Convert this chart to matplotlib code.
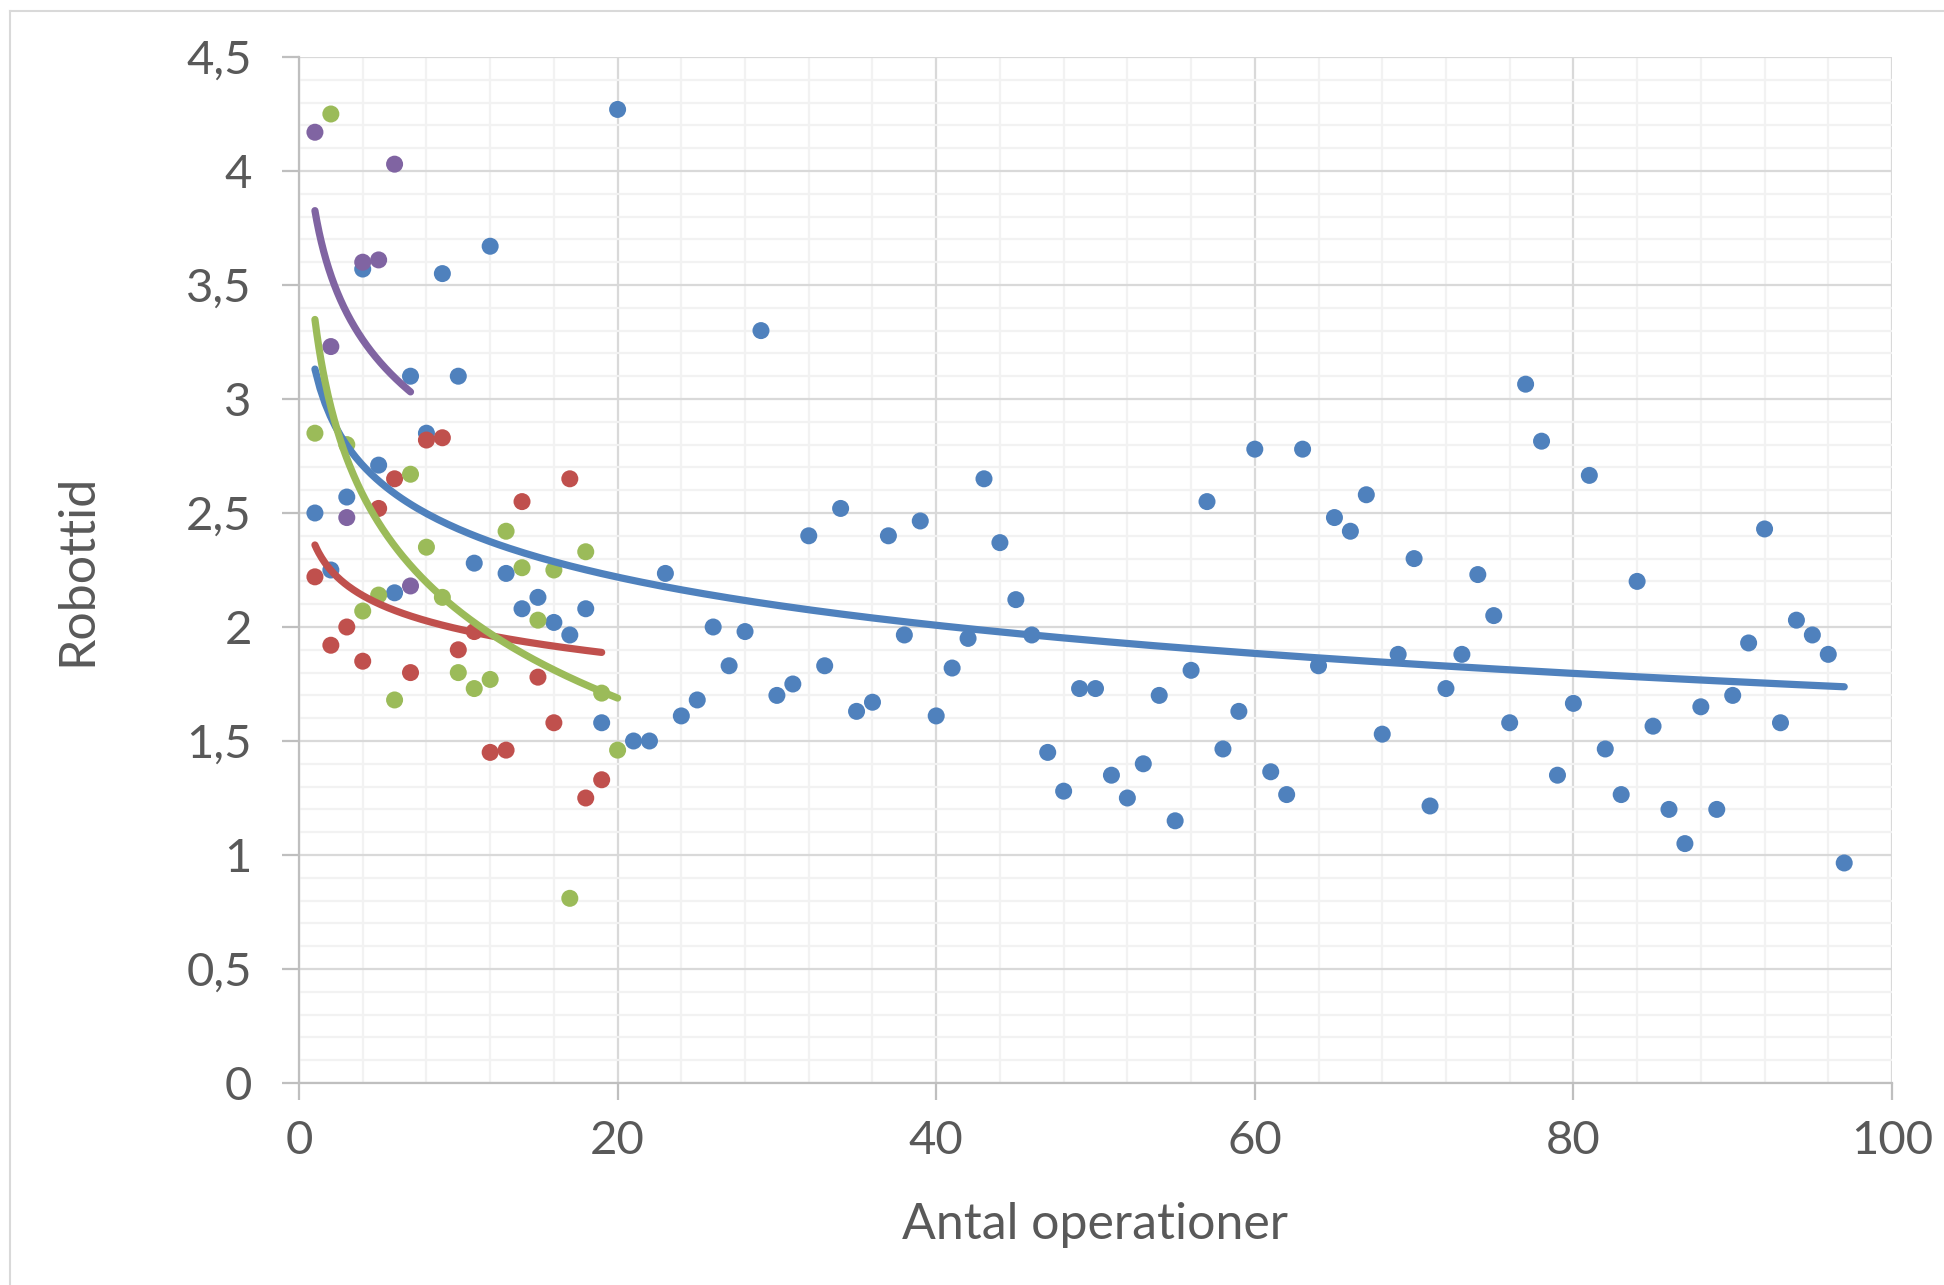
import numpy as np
import matplotlib
matplotlib.use('Agg')
import matplotlib.pyplot as plt
from matplotlib.ticker import MultipleLocator, FuncFormatter
from matplotlib.lines import Line2D

# ---------------- data ----------------
blue_x = list(range(1, 98))
blue_y = [2.50, 2.25, 2.57, 3.57, 2.71, 2.15, 3.10, 2.85, 3.55, 3.10,
          2.28, 3.67, 2.235, 2.08, 2.13, 2.02, 1.965, 2.08, 1.58, 4.27,
          1.50, 1.50, 2.235, 1.61, 1.68, 2.00, 1.83, 1.98, 3.30, 1.70,
          1.75, 2.40, 1.83, 2.52, 1.63, 1.67, 2.40, 1.965, 2.465, 1.61,
          1.82, 1.95, 2.65, 2.37, 2.12, 1.965, 1.45, 1.28, 1.73, 1.73,
          1.35, 1.25, 1.40, 1.70, 1.15, 1.81, 2.55, 1.465, 1.63, 2.78,
          1.365, 1.265, 2.78, 1.83, 2.48, 2.42, 2.58, 1.53, 1.88, 2.30,
          1.215, 1.73, 1.88, 2.23, 2.05, 1.58, 3.065, 2.815, 1.35, 1.665,
          2.665, 1.465, 1.265, 2.20, 1.565, 1.20, 1.05, 1.65, 1.20, 1.70,
          1.93, 2.43, 1.58, 2.03, 1.965, 1.88, 0.965]

red_x = list(range(1, 20))
red_y = [2.22, 1.92, 2.00, 1.85, 2.52, 2.65, 1.80, 2.82, 2.83, 1.90,
         1.98, 1.45, 1.46, 2.55, 1.78, 1.58, 2.65, 1.25, 1.33]

green_x = list(range(1, 21))
green_y = [2.85, 4.25, 2.80, 2.07, 2.14, 1.68, 2.67, 2.35, 2.13, 1.80,
           1.73, 1.77, 2.42, 2.26, 2.03, 2.25, 0.81, 2.33, 1.71, 1.46]

purple_x = list(range(1, 8))
purple_y = [4.17, 3.23, 2.48, 3.60, 3.61, 4.03, 2.18]

x_ticks = [0, 20, 40, 60, 80, 100]
y_ticks = [0, 0.5, 1, 1.5, 2, 2.5, 3, 3.5, 4, 4.5]
x_label = "Antal operationer"
y_label = "Robottid"

series = [
    (blue_x, blue_y, '#4F81BD'),
    (red_x, red_y, '#C0504D'),
    (green_x, green_y, '#9BBB59'),
    (purple_x, purple_y, '#8064A2'),
]

# ---------------- figure ----------------
W, H = 1944, 1285
fig = plt.figure(figsize=(W / 100, H / 100), dpi=100)
plt.rcParams['font.family'] = ['Lato', 'DejaVu Sans']

L, R, T, B = 299, 1892, 57, 1083
ax = fig.add_axes([L / W, 1 - B / H, (R - L) / W, (B - T) / H])
ax.set_xlim(0, 100)
ax.set_ylim(0, 4.5)

ax.xaxis.set_major_locator(MultipleLocator(20))
ax.xaxis.set_minor_locator(MultipleLocator(4))
ax.yaxis.set_major_locator(MultipleLocator(0.5))
ax.yaxis.set_minor_locator(MultipleLocator(0.1))
ax.set_xticks(x_ticks)
ax.set_yticks(y_ticks)

fmt = FuncFormatter(lambda v, p: ('%g' % v).replace('.', ','))
ax.xaxis.set_major_formatter(fmt)
ax.yaxis.set_major_formatter(fmt)

ax.set_axisbelow(True)
ax.grid(which='minor', color='#F2F2F2', lw=1.6)
ax.grid(which='major', color='#D9D9D9', lw=1.6)

for s in ['top', 'right']:
    ax.spines[s].set_visible(False)
for s in ['left', 'bottom']:
    ax.spines[s].set_color('#BFBFBF')
    ax.spines[s].set_linewidth(1.6)

ax.tick_params(which='major', direction='out', length=12, width=1.6,
               color='#BFBFBF', labelsize=34, labelcolor='#595959')
ax.tick_params(axis='x', which='major', pad=15)
ax.tick_params(axis='y', which='major', pad=22)
ax.tick_params(which='minor', length=0)

# scatter points
for i, (xs, ys, c) in enumerate(series):
    ax.scatter(xs, ys, s=150, color=c, edgecolors='none', zorder=3 + i * 0.1,
               clip_on=False)

# logarithmic trend lines
for i, (xs, ys, c) in enumerate(series):
    xa = np.asarray(xs, dtype=float)
    ya = np.asarray(ys, dtype=float)
    b, a = np.polyfit(np.log(xa), ya, 1)
    xx = np.linspace(xa.min(), xa.max(), 300)
    ax.plot(xx, a + b * np.log(xx), color=c, lw=5.2, solid_capstyle='round',
            zorder=5 + i * 0.1)

# axis titles
fig.text((L + R) / 2 / W, 1 - 1225 / H, x_label, ha='center', va='center',
         fontsize=36, color='#595959')
fig.text(77 / W, 1 - (T + B) / 2 / H, y_label, ha='center', va='center',
         rotation=90, fontsize=36, color='#595959')

# chart area border
fig.add_artist(Line2D([10 / W, 10 / W], [0, 1 - 11 / H], transform=fig.transFigure,
                      color='#D9D9D9', lw=1.5))
fig.add_artist(Line2D([10 / W, 1], [1 - 11 / H, 1 - 11 / H], transform=fig.transFigure,
                      color='#D9D9D9', lw=1.5))

fig.savefig('out.png', dpi=100)
